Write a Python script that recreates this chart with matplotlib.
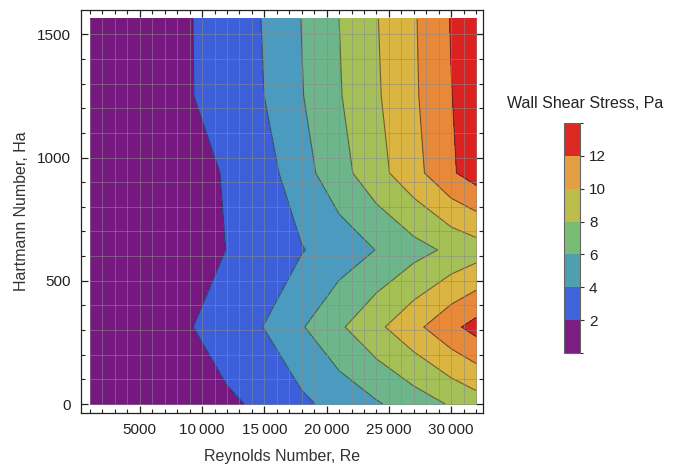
import numpy as np
import matplotlib
matplotlib.use("Agg")
import matplotlib.pyplot as plt
from matplotlib.colors import ListedColormap, BoundaryNorm
import matplotlib.colorbar as mcolorbar

plt.rcParams['font.family'] = ['Liberation Sans', 'DejaVu Sans']

# Reynolds / Hartmann sample points
re_nodes = [1000, 5000, 9000, 12000, 15000, 18000, 21000, 24000, 27000, 30000, 32000]
ha_nodes = [0, 312.5, 625, 937.5, 1250, 1562.5]

# wall shear stress (Pa), one list per Hartmann number
wss_ha0 = [0.1, 0.45, 1.0, 1.7, 2.35, 3.6, 4.7, 5.8, 6.95, 8.2, 9.0]
wss_ha312 = [0.1, 0.8, 1.9, 2.95, 4.05, 5.85, 7.7, 9.55, 11.45, 13.5, 14.7]
wss_ha625 = [0.1, 0.55, 1.25, 2.03, 2.9, 3.9, 4.9, 6.05, 7.3, 8.4, 9.05]
wss_ha937 = [0.1, 0.6, 1.35, 2.15, 3.2, 5.25, 7.25, 9.3, 11.3, 13.75, 14.93]
wss_ha1250 = [0.1, 0.85, 1.88, 2.95, 4.01, 5.9, 7.85, 9.75, 11.7, 13.95, 15.0]
wss_ha1562 = [0.1, 0.9, 1.9, 3.0, 4.1, 6.05, 8.0, 9.9, 11.8, 14.1, 15.3]

levels = [0, 2, 4, 6, 8, 10, 12, 14, 16]
band_colors = ['#76187f', '#3d5fd9', '#4a9bbf', '#6db68b', '#a4c057',
               '#dbb542', '#e8893a', '#dc2121']

legend_bounds = [0, 2, 4, 6, 8, 10, 12, 14]
legend_colors = ['#7a1e84', '#3f63d8', '#4f9fb0', '#78bc74', '#bcbd4b',
                 '#e2a042', '#dc2a22']
legend_ticks = [2, 4, 6, 8, 10, 12]

xticks_major = [5000, 10000, 15000, 20000, 25000, 30000]
xtick_labels = ['5000', '10\u2009000', '15\u2009000', '20\u2009000', '25\u2009000', '30\u2009000']
yticks_major = [0, 500, 1000, 1500]
ytick_labels = ['0', '500', '1000', '1500']

Z = np.array([wss_ha0, wss_ha312, wss_ha625, wss_ha937, wss_ha1250, wss_ha1562])
X, Y = np.meshgrid(re_nodes, ha_nodes)

fig = plt.figure(figsize=(6.78, 4.66), dpi=100)
ax = fig.add_axes([0.1195, 0.1137, 0.593, 0.865])

ax.contourf(X, Y, Z, levels=levels, colors=band_colors)
ax.contour(X, Y, Z, levels=levels[1:-1], colors='#252525', linewidths=0.8, alpha=0.6)

# mesh lines over the filled region only
for gx in range(1000, 32001, 1000):
    ax.plot([gx, gx], [ha_nodes[0], ha_nodes[-1]], color='#8a8a8a', lw=0.7, alpha=0.55)
for gy in range(0, 1501, 100):
    ax.plot([re_nodes[0], re_nodes[-1]], [gy, gy], color='#8a8a8a', lw=0.7, alpha=0.55)

ax.set_xlim(277, 32562)
ax.set_ylim(-36.5, 1599)

ax.set_xticks(xticks_major)
ax.set_xticklabels(xtick_labels)
ax.set_xticks(range(1000, 32001, 1000), minor=True)
ax.set_yticks(yticks_major)
ax.set_yticklabels(ytick_labels)
ax.set_yticks(range(0, 1501, 100), minor=True)
ax.tick_params(which='both', direction='in', top=True, right=True, colors='#222222',
               labelsize=11, labelcolor='#222222')
ax.tick_params(which='major', length=5, width=0.9, pad=7)
ax.tick_params(which='minor', length=3, width=0.8)
for s in ax.spines.values():
    s.set_color('#222222')
    s.set_linewidth(0.9)

ax.set_xlabel('Reynolds Number, Re', fontsize=11.5, color='#333333', labelpad=9)
ax.set_ylabel('Hartmann Number, Ha', fontsize=11.5, color='#333333', labelpad=6)

# legend bar
cax = fig.add_axes([0.8319, 0.2425, 0.0236, 0.4936])
cmap = ListedColormap(legend_colors)
norm = BoundaryNorm(legend_bounds, cmap.N)
cb = mcolorbar.ColorbarBase(cax, cmap=cmap, norm=norm, ticks=legend_ticks)
cb.outline.set_edgecolor('#666666')
cb.outline.set_linewidth(0.8)
cax.tick_params(length=3, width=0.8, colors='#333333', labelsize=11, labelcolor='#222222')
fig.text(0.863, 1 - 103 / 466, 'Wall Shear Stress, Pa', ha='center', va='center',
         fontsize=11.5, color='#222222')

fig.savefig('out.png', dpi=100)
